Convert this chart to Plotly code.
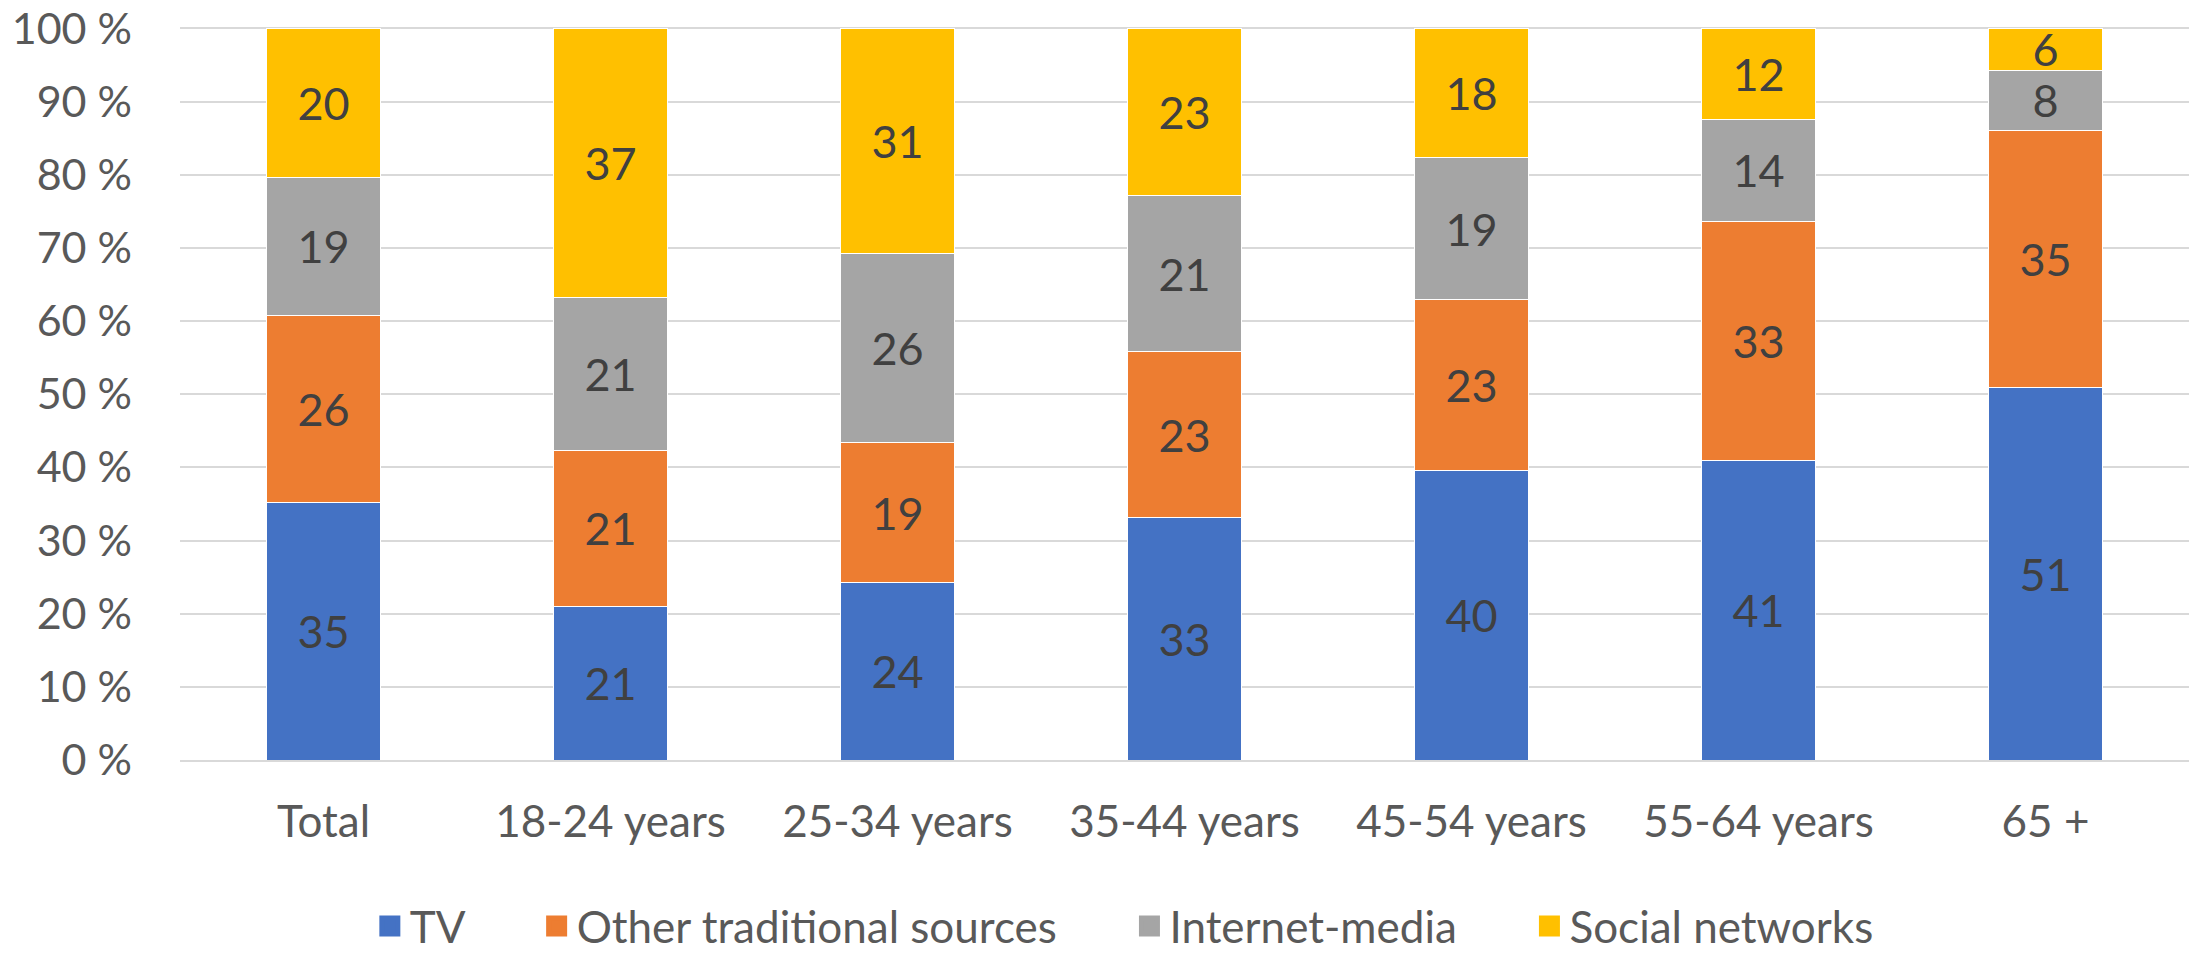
import plotly.graph_objects as go

categories = ["Total", "18-24 years", "25-34 years", "35-44 years", "45-54 years", "55-64 years", "65 +"]
tv = [35.2, 21.0, 24.2, 33.1, 39.6, 40.9, 50.9]
other_traditional = [25.6, 21.3, 19.2, 22.7, 23.3, 32.7, 35.2]
internet_media = [18.8, 20.9, 25.9, 21.3, 19.4, 14.0, 8.2]
social_networks = [20.4, 36.8, 30.7, 22.9, 17.7, 12.4, 5.7]

series_names = ["TV", "Other traditional sources", "Internet-media", "Social networks"]
series_colors = ["#4472C4", "#ED7D31", "#A5A5A5", "#FFC000"]
series_values = [tv, other_traditional, internet_media, social_networks]

y_tick_vals = [0, 10, 20, 30, 40, 50, 60, 70, 80, 90, 100]
y_tick_text = ["0 %", "10 %", "20 %", "30 %", "40 %", "50 %", "60 %", "70 %", "80 %", "90 %", "100 %"]

FONT = "Lato"
FS = 45
TFS = 44
PAD = "\u00a0" * 6

fig = go.Figure()
for name, color, vals in zip(series_names, series_colors, series_values):
    fig.add_trace(go.Bar(
        name=name,
        legendgroup=name,
        showlegend=False,
        x=categories,
        y=vals,
        marker=dict(color=color, line=dict(color="#ffffff", width=1)),
        text=[f"{v:.0f}" for v in vals],
        textposition="inside",
        insidetextanchor="middle",
        textangle=0,
        textfont=dict(family=FONT, size=FS, color="#404040"),
        cliponaxis=False,
    ))

# legend entries (large square swatches)
for i, (name, color) in enumerate(zip(series_names, series_colors)):
    fig.add_trace(go.Scatter(
        name=name + (PAD if i < len(series_names) - 1 else ""),
        legendgroup=name,
        x=[None], y=[None],
        mode="markers",
        marker=dict(symbol="square", size=16, color=color, line=dict(color=color, width=5)),
        showlegend=True,
        hoverinfo="skip",
    ))

fig.update_layout(
    template="none",
    barmode="stack",
    bargap=0.6,
    width=2196,
    height=954,
    autosize=False,
    margin=dict(l=180, r=7, t=27, b=194, autoexpand=False),
    paper_bgcolor="white",
    plot_bgcolor="white",
    font=dict(family=FONT, size=TFS, color="#595959"),
    uniformtext=dict(minsize=FS, mode="show"),
    showlegend=True,
    legend=dict(
        orientation="h",
        xref="container",
        yref="container",
        x=0.512,
        xanchor="center",
        y=0.029,
        yanchor="middle",
        font=dict(family=FONT, size=TFS, color="#595959"),
        itemsizing="trace",
        itemwidth=30,
        traceorder="normal",
        bgcolor="rgba(0,0,0,0)",
    ),
    xaxis=dict(
        automargin=False,
        showgrid=False,
        showline=True,
        linecolor="#d9d9d9",
        linewidth=2,
        ticks="",
        ticklabelstandoff=22,
        tickfont=dict(family=FONT, size=TFS, color="#595959"),
    ),
    yaxis=dict(
        automargin=False,
        range=[0, 100.2],
        tickvals=y_tick_vals,
        ticktext=y_tick_text,
        showgrid=True,
        gridcolor="#d9d9d9",
        gridwidth=2,
        zeroline=False,
        showline=False,
        ticks="",
        ticklabelstandoff=47,
        ticklabeloverflow="allow",
        tickfont=dict(family=FONT, size=43, color="#595959"),
    ),
)

fig.write_html(
    "out.html",
    config={"displayModeBar": False},
    post_script="document.body.style.margin='0';document.body.style.overflow='hidden';",
)
